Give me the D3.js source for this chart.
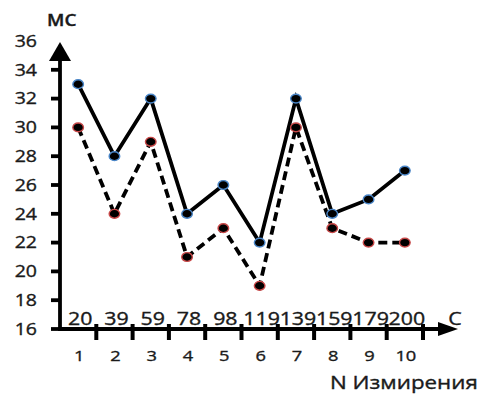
<!DOCTYPE html>
<html><head><meta charset="utf-8">
<script src="https://cdn.jsdelivr.net/npm/d3@7"></script>
<style>body{margin:0;background:#fff}svg{display:block}</style>
</head><body>
<script>
const measurements = [1,2,3,4,5,6,7,8,9,10];
const timeLabels = ["20","39","59","78","98","119","139","159","179","200"];
const solidSeries = [33,28,32,24,26,22,32,24,25,27];
const dashedSeries = [30,24,29,21,23,19,30,23,22,22];
const yTicks = [16,18,20,22,24,26,28,30,32,34,36];

const W=479,H=394;
const svg=d3.select("body").append("svg").attr("width",W).attr("height",H);
const x=d3.scaleBand().domain(measurements).range([60,423]);
const y=d3.scaleLinear().domain([16,36]).range([329,41]);
const cx=d=>x(d)+x.bandwidth()/2;
const SX=1.22;
function txt(px,py,s,size,anchor,weight){
  return svg.append("text").attr("transform",`translate(${px},${py}) scale(${SX},1)`)
    .attr("text-anchor",anchor||"middle").attr("font-family","Open Sans").attr("font-size",size)
    .attr("font-weight",weight||400)
    .attr("fill","#1a1a1a").attr("stroke","#1a1a1a").attr("stroke-width",0.35).text(s);
}
// y axis
svg.append("line").attr("x1",60).attr("x2",60).attr("y1",y(16)+1.5).attr("y2",y(36)+18).attr("stroke","#000").attr("stroke-width",3.8);
svg.append("path").attr("d",`M${60-11},${y(36)+20}L60,${y(36)+1}L${60+11},${y(36)+20}Z`).attr("fill","#000");
yTicks.filter(v=>v<36).forEach(v=>{
  svg.append("line").attr("x1",51).attr("x2",60).attr("y1",y(v)).attr("y2",y(v)).attr("stroke","#000").attr("stroke-width",3.8);
});
yTicks.forEach(v=>txt(37,y(v)+5.8,String(v),16,"end"));
txt(47,26,"МС",15.5,"start",600);
// x axis
svg.append("line").attr("x1",58).attr("x2",440).attr("y1",y(16)).attr("y2",y(16)).attr("stroke","#000").attr("stroke-width",3.8);
svg.append("path").attr("d",`M438,${y(16)-7}L458,${y(16)}L438,${y(16)+7}Z`).attr("fill","#000");
measurements.forEach(m=>{
  const ex=x(m)+x.bandwidth();
  svg.append("line").attr("x1",ex).attr("x2",ex).attr("y1",y(16)-5).attr("y2",y(16)+11).attr("stroke","#000").attr("stroke-width",4);
});
measurements.forEach((m,i)=>{
  txt(cx(m)+1,360.5,String(m),15,"middle");
  txt(cx(m)+2,325,timeLabels[i],17.5,"middle");
});
txt(455,325,"С",17.5,"middle");
txt(330,389,"N Измирения",18.3,"start");
// lines
const line=d3.line().x((d,i)=>cx(measurements[i])).y(d=>y(d));
svg.append("path").datum(dashedSeries).attr("d",line).attr("fill","none").attr("stroke","#000").attr("stroke-width",3.8).attr("stroke-dasharray","9,5");
svg.append("path").datum(solidSeries).attr("d",line).attr("fill","none").attr("stroke","#000").attr("stroke-width",3.8);
svg.selectAll(".ds").data(dashedSeries).join("ellipse").attr("cx",(d,i)=>cx(measurements[i])).attr("cy",d=>y(d))
  .attr("rx",5.3).attr("ry",4.4).attr("fill","#000").attr("stroke","#c84848").attr("stroke-width",1.4);
svg.selectAll(".ss").data(solidSeries).join("ellipse").attr("cx",(d,i)=>cx(measurements[i])).attr("cy",d=>y(d))
  .attr("rx",5.3).attr("ry",4.4).attr("fill","#000").attr("stroke","#4a86c8").attr("stroke-width",1.4);
</script>
</body></html>
